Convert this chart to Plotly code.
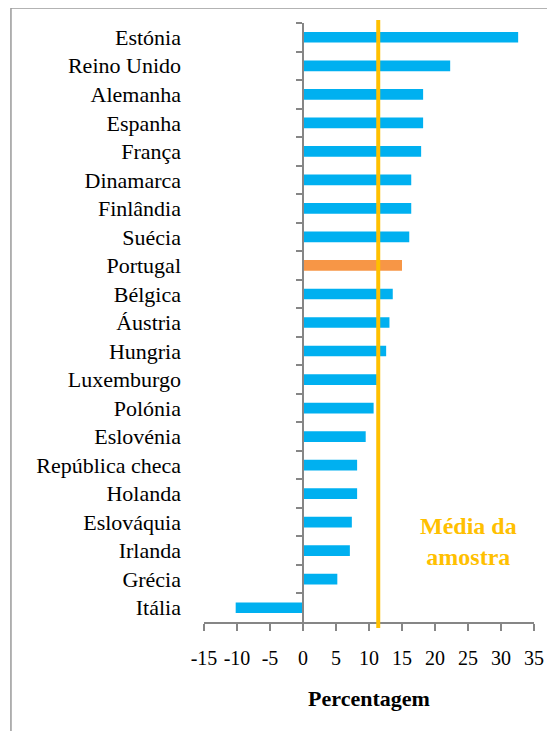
import plotly.graph_objects as go

countries = ["Estónia", "Reino Unido", "Alemanha", "Espanha", "França", "Dinamarca",
             "Finlândia", "Suécia", "Portugal", "Bélgica", "Áustria", "Hungria",
             "Luxemburgo", "Polónia", "Eslovénia", "República checa", "Holanda",
             "Eslováquia", "Irlanda", "Grécia", "Itália"]
values = [32.6, 22.3, 18.2, 18.2, 17.9, 16.4, 16.4, 16.1, 15.0, 13.6, 13.1, 12.6,
          11.2, 10.7, 9.5, 8.2, 8.2, 7.4, 7.1, 5.2, -10.2]
sample_mean = 11.4
x_ticks = [-15, -10, -5, 0, 5, 10, 15, 20, 25, 30, 35]
x_tick_labels = ["-15", "-10", "-5", "0", "5", "10", "15", "20", "25", "30", "35"]

BLUE = "#00B0F0"
ORANGE = "#F79646"
GOLD = "#FFC000"
AXIS = "#868686"
FONT = "Liberation Serif, Times New Roman, serif"

colors = [ORANGE if c == "Portugal" else BLUE for c in countries]
x_min, x_max = x_ticks[0], x_ticks[-1]

fig = go.Figure()
fig.add_trace(go.Bar(x=values, y=countries, orientation="h", width=0.375,
                     marker=dict(color=colors, line=dict(width=0)),
                     hoverinfo="x+y", showlegend=False))
# invisible trace so the axis crossing at zero has something to draw against
fig.add_trace(go.Bar(x=[0] * len(countries), y=countries, orientation="h",
                     yaxis="y2", marker=dict(color="rgba(0,0,0,0)"),
                     hoverinfo="skip", showlegend=False))

fig.add_shape(type="line", x0=sample_mean, x1=sample_mean, xref="x",
              y0=-0.01, y1=1.005, yref="paper",
              line=dict(color=GOLD, width=4))
fig.add_shape(type="rect", xref="paper", yref="paper",
              x0=-0.585, x1=3, y0=-3, y1=1.025,
              line=dict(color="#9A9A9A", width=1.5), layer="below")

fig.add_annotation(x=25, y=0.135, xref="x", yref="paper",
                   xanchor="center", yanchor="middle",
                   text="<b>Média da<br>amostra</b>", showarrow=False,
                   font=dict(family=FONT, size=24, color=GOLD), align="center")

# page body adds an 8px offset, so margins are shifted to compensate
fig.update_layout(
    width=555, height=731,
    margin=dict(l=196, r=29, t=15, b=117),
    plot_bgcolor="white", paper_bgcolor="white",
    font=dict(family=FONT, size=20, color="black"),
    bargap=0.6,
    xaxis=dict(range=[x_min, x_max], tickvals=x_ticks, ticktext=x_tick_labels,
               tickangle=0, automargin=False, showgrid=False,
               zeroline=False, showline=True, linecolor=AXIS, linewidth=2,
               ticks="outside", ticklen=7, tickcolor=AXIS, tickwidth=1.5,
               ticklabelstandoff=10, tickfont=dict(size=20),
               title=dict(text="<b>Percentagem</b>", font=dict(size=22), standoff=23)),
    yaxis=dict(autorange="reversed", type="category", showgrid=False,
               automargin=False, showline=False, zeroline=False, ticks="",
               ticklabelstandoff=22, tickfont=dict(size=22)),
    yaxis2=dict(overlaying="y", anchor="free",
                position=(0 - x_min) / (x_max - x_min),
                matches="y", type="category", automargin=False,
                showticklabels=False, showline=True, linecolor=AXIS, linewidth=2,
                ticks="outside", tickson="boundaries", ticklen=6,
                tickcolor=AXIS, tickwidth=1.5, showgrid=False),
)

fig.write_html("out.html")
